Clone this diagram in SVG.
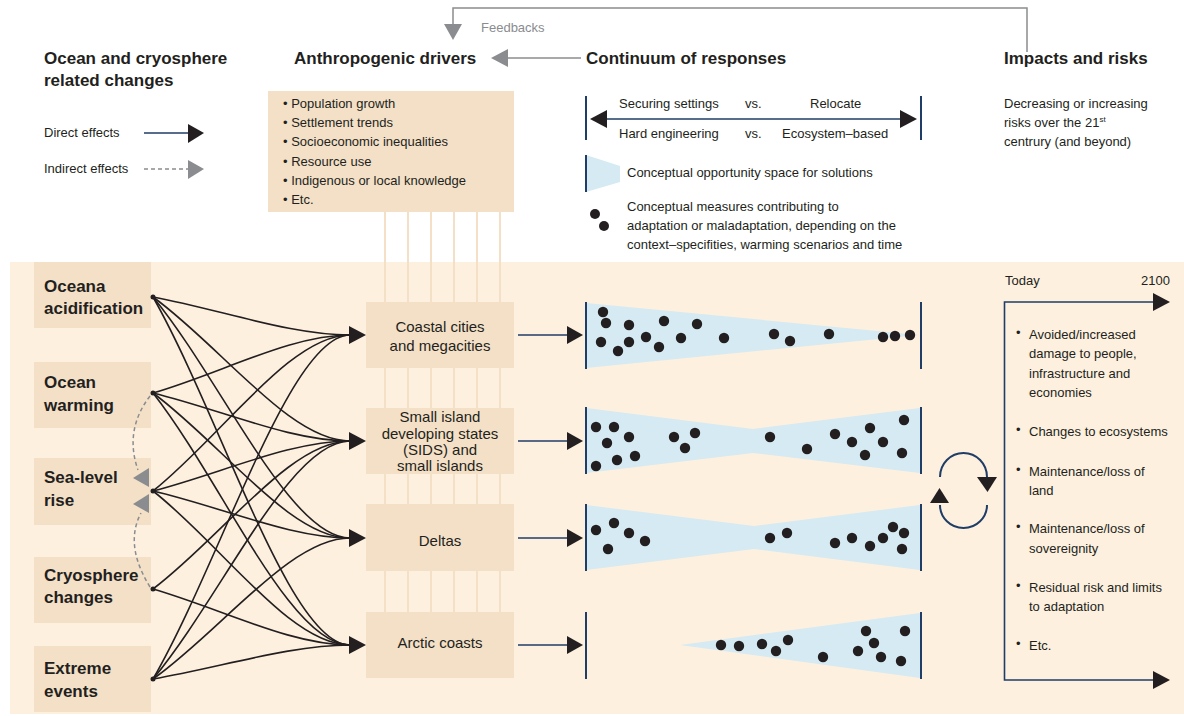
<svg xmlns="http://www.w3.org/2000/svg" width="1184" height="716" viewBox="0 0 1184 716">
<defs>
<style>
text{font-family:"Liberation Sans",Arial,Helvetica,sans-serif;fill:#231f20}
.h{font-size:17px;font-weight:bold}
.b{font-size:17px;font-weight:bold}
.t{font-size:13px}
.m{font-size:15px;text-anchor:middle}
.g{fill:#8a8c8f}
.box{fill:#f3e0c7}
.blue{fill:#d5eaf2}
.bar{stroke:#1f3d66;stroke-width:2;fill:none}
.nav{stroke:#1f3d66;stroke-width:1.6;fill:none}
.net{stroke:#231f20;stroke-width:1.6;fill:none}
.ah{fill:#231f20}
.dot{fill:#231f20}
.vl{stroke:#f3e0c7;stroke-width:2}
</style>
</defs>
<rect width="1184" height="716" fill="#ffffff"/>
<!-- background panel -->
<rect x="10" y="262" width="1174" height="452" fill="#fdf0df"/>

<!-- header -->
<g id="feedback">
<path d="M1027 52 V8 H453 V25" stroke="#8a8c8f" stroke-width="1.5" fill="none"/>
<polygon points="444,24 462,24 453,40" fill="#8a8c8f"/>
<text class="t g" x="481" y="32">Feedbacks</text>
</g>
<g id="grey-arrow">
<line x1="581" y1="58" x2="505" y2="58" stroke="#8a8c8f" stroke-width="1.5"/>
<polygon points="508,49 491,58 508,67" fill="#8a8c8f"/>
</g>
<text class="h" x="44" y="64">Ocean and cryosphere</text>
<text class="h" x="44" y="86">related changes</text>
<text class="h" x="294" y="64">Anthropogenic drivers</text>
<text class="h" x="586" y="64">Continuum of responses</text>
<text class="h" x="1004" y="64">Impacts and risks</text>

<!-- legend -->
<g id="legend">
<text class="t" x="44" y="137">Direct effects</text>
<line x1="144" y1="133" x2="190" y2="133" class="nav"/>
<polygon points="188,124 204,133 188,143" class="ah"/>
<text class="t" x="44" y="173">Indirect effects</text>
<line x1="144" y1="169" x2="190" y2="169" stroke="#8a8c8f" stroke-width="1.5" stroke-dasharray="4,3"/>
<polygon points="188,160 204,169 188,179" fill="#8a8c8f"/>
</g>

<!-- drivers -->
<g id="drivers">
<line class="vl" x1="385" y1="212" x2="385" y2="612"/>
<line class="vl" x1="408" y1="212" x2="408" y2="612"/>
<line class="vl" x1="431" y1="212" x2="431" y2="612"/>
<line class="vl" x1="454" y1="212" x2="454" y2="612"/>
<line class="vl" x1="477" y1="212" x2="477" y2="612"/>
<line class="vl" x1="500" y1="212" x2="500" y2="612"/>
<rect class="box" x="268" y="91" width="246" height="121"/>
<text class="t" x="283" y="108">• Population growth</text>
<text class="t" x="283" y="127">• Settlement trends</text>
<text class="t" x="283" y="146">• Socioeconomic inequalities</text>
<text class="t" x="283" y="166">• Resource use</text>
<text class="t" x="283" y="185">• Indigenous or local knowledge</text>
<text class="t" x="283" y="204">• Etc.</text>
</g>

<!-- continuum legend -->
<g id="continuum-legend">
<line class="bar" x1="586" y1="96" x2="586" y2="140"/>
<line class="bar" x1="921" y1="96" x2="921" y2="140"/>
<line class="nav" x1="604" y1="119" x2="903" y2="119"/>
<polygon points="607,110 590,119 607,128" class="ah"/>
<polygon points="900,110 917,119 900,128" class="ah"/>
<text class="t" x="619" y="108">Securing settings</text>
<text class="t" x="745" y="108">vs.</text>
<text class="t" x="810" y="108">Relocate</text>
<text class="t" x="619" y="138">Hard engineering</text>
<text class="t" x="745" y="138">vs.</text>
<text class="t" x="782" y="138">Ecosystem–based</text>
<polygon class="blue" points="586,155 620,166 620,182 586,192"/>
<line class="bar" x1="586" y1="155" x2="586" y2="192"/>
<text class="t" x="627" y="177">Conceptual opportunity space for solutions</text>
<circle class="dot" cx="595" cy="214" r="5"/>
<circle class="dot" cx="604" cy="226" r="5"/>
<text class="t" x="627" y="211">Conceptual measures contributing to</text>
<text class="t" x="627" y="230">adaptation or maladaptation, depending on the</text>
<text class="t" x="627" y="249">context–specifities, warming scenarios and time</text>
</g>

<g id="impacts-legend">
<text class="t" x="1004" y="108">Decreasing or increasing</text>
<text class="t" x="1004" y="127">risks over the 21<tspan font-size="8" dy="-5">st</tspan></text>
<text class="t" x="1004" y="146">centrury (and beyond)</text>
</g>

<!-- left nodes -->
<g id="n-acidification"><rect class="box" x="34" y="262" width="117" height="66"/><text class="b" x="44" y="292">Oceana</text><text class="b" x="44" y="314">acidification</text></g>
<g id="n-warming"><rect class="box" x="34" y="362" width="117" height="66"/><text class="b" x="44" y="388">Ocean</text><text class="b" x="44" y="411">warming</text></g>
<g id="n-sealevel"><rect class="box" x="34" y="458" width="117" height="67"/><text class="b" x="44" y="483">Sea-level</text><text class="b" x="44" y="506">rise</text></g>
<g id="n-cryosphere"><rect class="box" x="34" y="557" width="117" height="66"/><text class="b" x="44" y="581">Cryosphere</text><text class="b" x="44" y="603">changes</text></g>
<g id="n-extreme"><rect class="box" x="34" y="646" width="117" height="66"/><text class="b" x="44" y="674">Extreme</text><text class="b" x="44" y="697">events</text></g>

<!-- middle nodes -->
<g id="n-coastal"><rect class="box" x="366" y="302" width="148" height="66"/><text class="m" x="440" y="332">Coastal cities</text><text class="m" x="440" y="351">and megacities</text></g>
<g id="n-sids"><rect class="box" x="366" y="408" width="148" height="66"/><text class="m" x="440" y="422">Small island</text><text class="m" x="440" y="439">developing states</text><text class="m" x="440" y="455">(SIDS) and</text><text class="m" x="440" y="471">small islands</text></g>
<g id="n-deltas"><rect class="box" x="366" y="504" width="148" height="67"/><text class="m" x="440" y="546">Deltas</text></g>
<g id="n-arctic"><rect class="box" x="366" y="612" width="148" height="66"/><text class="m" x="440" y="648">Arctic coasts</text></g>

<!-- connectors -->
<g id="connectors">
<path class="net" d="M153 297 C222 310 290 335 350 335"/>
<path class="net" d="M153 297 C222 347 290 441 350 441"/>
<path class="net" d="M153 297 C222 381 290 538 350 538"/>
<path class="net" d="M153 297 C222 419 290 645 350 645"/>
<path class="net" d="M153 393 C222 373 290 335 350 335"/>
<path class="net" d="M153 393 C222 410 290 441 350 441"/>
<path class="net" d="M153 393 C222 444 290 538 350 538"/>
<path class="net" d="M153 393 C222 481 290 645 350 645"/>
<path class="net" d="M153 491 C222 436 290 335 350 335"/>
<path class="net" d="M153 491 C222 473 290 441 350 441"/>
<path class="net" d="M153 491 C222 507 290 538 350 538"/>
<path class="net" d="M153 491 C222 545 290 645 350 645"/>
<path class="net" d="M153 589 C222 537 290 441 350 441"/>
<path class="net" d="M153 589 C222 609 290 645 350 645"/>
<path class="net" d="M153 679 C222 559 290 335 350 335"/>
<path class="net" d="M153 679 C222 596 290 441 350 441"/>
<path class="net" d="M153 679 C222 630 290 538 350 538"/>
<path class="net" d="M153 679 C222 667 290 645 350 645"/>
<circle class="dot" cx="153" cy="297" r="2.5"/>
<circle class="dot" cx="153" cy="393" r="2.5"/>
<circle class="dot" cx="153" cy="491" r="2.5"/>
<circle class="dot" cx="153" cy="589" r="2.5"/>
<circle class="dot" cx="153" cy="679" r="2.5"/>
<polygon class="ah" points="349,326 366,335 349,344"/>
<polygon class="ah" points="349,432 366,441 349,450"/>
<polygon class="ah" points="349,529 366,538 349,547"/>
<polygon class="ah" points="349,636 366,645 349,654"/>
<!-- indirect -->
<path d="M150 396 Q124 430 138 470" stroke="#8a8c8f" stroke-width="1.5" fill="none" stroke-dasharray="4,3"/>
<path d="M150 587 Q124 545 141 513" stroke="#8a8c8f" stroke-width="1.5" fill="none" stroke-dasharray="4,3"/>
<polygon points="133,478 149,468 149,487" fill="#8a8c8f"/>
<polygon points="133,504 149,494 149,513" fill="#8a8c8f"/>
<!-- outputs -->
<line class="nav" x1="518" y1="335" x2="569" y2="335"/>
<line class="nav" x1="518" y1="441" x2="569" y2="441"/>
<line class="nav" x1="518" y1="538" x2="569" y2="538"/>
<line class="nav" x1="518" y1="645" x2="569" y2="645"/>
<polygon class="ah" points="567,326 583,335 567,344"/>
<polygon class="ah" points="567,432 583,441 567,450"/>
<polygon class="ah" points="567,529 583,538 567,547"/>
<polygon class="ah" points="567,636 583,645 567,654"/>
</g>

<!-- response panels -->
<g id="r-coastal">
<polygon class="blue" points="586,303 919,335 586,368"/>
<line class="bar" x1="586" y1="302" x2="586" y2="369"/>
<line class="bar" x1="921" y1="302" x2="921" y2="369"/>
<g class="dot">
<circle cx="603" cy="312" r="5.2"/><circle cx="606" cy="323" r="5.2"/><circle cx="629" cy="325" r="5.2"/><circle cx="664" cy="321" r="5.2"/><circle cx="697" cy="324" r="5.2"/><circle cx="601" cy="342" r="5.2"/><circle cx="618" cy="351" r="5.2"/><circle cx="629" cy="342" r="5.2"/><circle cx="646" cy="337" r="5.2"/><circle cx="659" cy="347" r="5.2"/><circle cx="681" cy="338" r="5.2"/><circle cx="724" cy="338" r="5.2"/><circle cx="774" cy="334" r="5.2"/><circle cx="790" cy="341" r="5.2"/><circle cx="829" cy="334" r="5.2"/><circle cx="883" cy="337" r="5.2"/><circle cx="895" cy="336" r="5.2"/><circle cx="910" cy="335" r="5.2"/>
</g>
</g>
<g id="r-sids">
<polygon class="blue" points="586,408 753,429 920,408 920,473 753,453 586,473"/>
<line class="bar" x1="586" y1="407" x2="586" y2="474"/>
<line class="bar" x1="921" y1="407" x2="921" y2="474"/>
<g class="dot">
<circle cx="596" cy="427" r="5.2"/><circle cx="614" cy="427" r="5.2"/><circle cx="629" cy="437" r="5.2"/><circle cx="607" cy="443" r="5.2"/><circle cx="596" cy="466" r="5.2"/><circle cx="617" cy="460" r="5.2"/><circle cx="635" cy="456" r="5.2"/><circle cx="674" cy="437" r="5.2"/><circle cx="695" cy="433" r="5.2"/><circle cx="685" cy="448" r="5.2"/><circle cx="770" cy="437" r="5.2"/><circle cx="807" cy="449" r="5.2"/><circle cx="835" cy="434" r="5.2"/><circle cx="852" cy="442" r="5.2"/><circle cx="870" cy="428" r="5.2"/><circle cx="883" cy="442" r="5.2"/><circle cx="904" cy="420" r="5.2"/><circle cx="865" cy="455" r="5.2"/><circle cx="902" cy="453" r="5.2"/>
</g>
</g>
<g id="r-deltas">
<polygon class="blue" points="586,505 754,526 920,505 920,570 754,549 586,570"/>
<line class="bar" x1="586" y1="504" x2="586" y2="571"/>
<line class="bar" x1="921" y1="504" x2="921" y2="571"/>
<g class="dot">
<circle cx="596" cy="530" r="5.2"/><circle cx="614" cy="523" r="5.2"/><circle cx="629" cy="533" r="5.2"/><circle cx="645" cy="541" r="5.2"/><circle cx="608" cy="549" r="5.2"/><circle cx="770" cy="538" r="5.2"/><circle cx="787" cy="533" r="5.2"/><circle cx="835" cy="543" r="5.2"/><circle cx="852" cy="538" r="5.2"/><circle cx="870" cy="546" r="5.2"/><circle cx="883" cy="538" r="5.2"/><circle cx="893" cy="527" r="5.2"/><circle cx="904" cy="533" r="5.2"/><circle cx="902" cy="549" r="5.2"/>
</g>
</g>
<g id="r-arctic">
<polygon class="blue" points="680,645 920,613 920,678"/>
<line class="bar" x1="586" y1="612" x2="586" y2="679"/>
<line class="bar" x1="921" y1="612" x2="921" y2="679"/>
<g class="dot">
<circle cx="721" cy="645" r="5.2"/><circle cx="739" cy="646" r="5.2"/><circle cx="762" cy="644" r="5.2"/><circle cx="776" cy="651" r="5.2"/><circle cx="788" cy="640" r="5.2"/><circle cx="823" cy="657" r="5.2"/><circle cx="866" cy="631" r="5.2"/><circle cx="905" cy="631" r="5.2"/><circle cx="874" cy="643" r="5.2"/><circle cx="858" cy="651" r="5.2"/><circle cx="881" cy="657" r="5.2"/><circle cx="901" cy="661" r="5.2"/>
</g>
</g>

<!-- cycle -->
<g id="cycle">
<path class="bar" d="M940 477 A23.5 24 0 0 1 987 477"/>
<path class="bar" d="M940 505 A23.5 23 0 0 0 987 505"/>
<polygon class="ah" points="977,477 997,477 987.5,492"/>
<polygon class="ah" points="930,503 949,503 939.5,488"/>
</g>

<!-- impacts timeline -->
<g id="impacts">
<path class="nav" d="M1154 302 H1004.5 V680 H1154"/>
<polygon class="ah" points="1153,293 1170,302 1153,311"/>
<polygon class="ah" points="1153,671 1170,680 1153,689"/>
<text class="t" x="1005" y="285">Today</text>
<text class="t" x="1170" y="285" text-anchor="end">2100</text>
<text class="t" x="1016" y="337">•</text><text class="t" x="1029" y="339">Avoided/increased</text>
<text class="t" x="1029" y="358">damage to people,</text>
<text class="t" x="1029" y="378">infrastructure and</text>
<text class="t" x="1029" y="397">economies</text>
<text class="t" x="1016" y="434">•</text><text class="t" x="1029" y="436">Changes to ecosystems</text>
<text class="t" x="1016" y="474">•</text><text class="t" x="1029" y="476">Maintenance/loss of</text>
<text class="t" x="1029" y="495">land</text>
<text class="t" x="1016" y="531">•</text><text class="t" x="1029" y="533">Maintenance/loss of</text>
<text class="t" x="1029" y="553">sovereignity</text>
<text class="t" x="1016" y="590">•</text><text class="t" x="1029" y="592">Residual risk and limits</text>
<text class="t" x="1029" y="611">to adaptation</text>
<text class="t" x="1016" y="648">•</text><text class="t" x="1029" y="650">Etc.</text>
</g>
</svg>
